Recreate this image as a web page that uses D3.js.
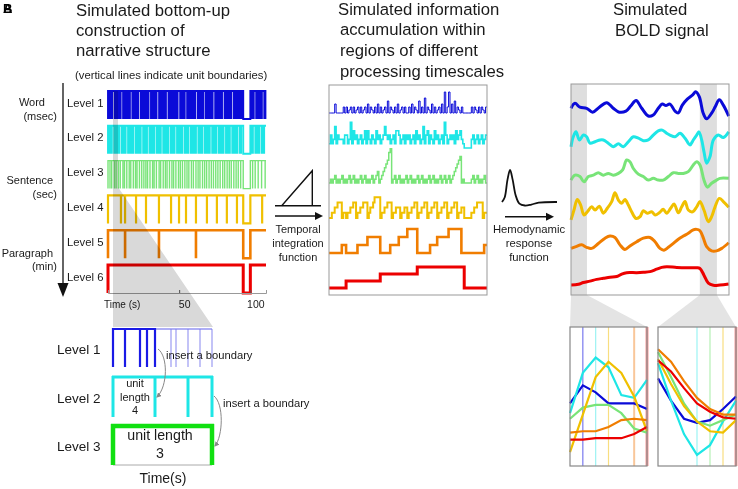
<!DOCTYPE html>
<html><head><meta charset="utf-8">
<script src="https://cdn.jsdelivr.net/npm/d3@7"></script>
<style>body{margin:0;background:#fff}svg{display:block;font-family:"Liberation Sans",Arial,Helvetica,sans-serif}</style>
</head><body><svg id="c" width="738" height="489"></svg>
<script>
// ---------------- DATA ----------------
const levelNames = ["Level 1","Level 2","Level 3","Level 4","Level 5","Level 6"];
const timescaleLabels = [["Word","(msec)"],["Sentence","(sec)"],["Paragraph","(min)"]];
const timeTicks = [50,100];
const pauseStart = 95, pauseEnd = 100;
// unit boundaries (s) for each level
const level1Bounds = [0,0.8,1.5,2.4,3.1,4.9,5.7,6.5,7.3,8.1,8.9,10.6,11.4,12.2,12.9,13.8,14.6,15.4,17.1,17.9,18.7,19.5,20.3,21.1,22.9,23.7,24.5,25.3,26.1,26.9,27.7,28.5,30.2,31.0,31.8,32.5,33.3,34.1,35.9,36.7,37.5,38.3,39.1,39.9,40.7,42.5,43.3,44.1,44.9,45.7,46.5,47.3,48.1,48.9,50.7,51.5,52.3,53.1,53.9,55.6,56.4,57.2,58.0,58.8,59.6,60.4,61.2,63.0,63.8,64.6,65.4,66.2,67.0,68.7,69.5,70.3,71.1,71.9,72.7,73.5,75.3,76.1,76.9,77.7,78.5,79.3,80.1,81.9,82.7,83.5,84.3,85.1,85.9,86.7,88.5,89.3,90.1,90.9,91.7,92.5,93.3,94.1,95,100,100.8,101.6,102.4,104.1,104.9,105.7,106.5,107.3,108.1,109.8,110.6];
const level2Bounds = [0,0.9,1.8,2.7,4.4,5.3,6.2,7.1,8.0,9.7,10.6,11.5,12.4,14.1,15.0,15.9,16.8,17.7,19.4,20.3,21.2,22.1,23.0,24.7,25.6,26.5,27.4,29.1,30.0,30.9,31.8,32.7,34.4,35.3,36.2,37.1,38.8,39.7,40.6,41.5,42.4,44.1,45.0,45.9,46.8,48.5,49.4,50.3,51.2,52.1,53.8,54.7,55.6,56.5,58.2,59.1,60.0,60.9,61.8,63.5,64.4,65.3,66.2,67.9,68.8,69.7,70.6,71.5,73.2,74.1,75.0,75.9,77.6,78.5,79.4,80.3,81.2,82.9,83.8,84.7,85.6,87.3,88.2,89.1,90.0,90.9,92.6,93.5,95,100,100.9,101.8,103.5,104.4,105.3,106.2,107.9,108.8,109.7];
const level3Bounds = [0,1.4,2.6,4.5,5.7,7.3,8.6,10.5,11.6,13.2,14.9,16.0,17.8,19.3,20.4,22.1,23.7,25.2,26.6,27.8,29.5,31.3,32.4,34.0,35.9,37.0,38.8,40.3,41.5,43.2,44.9,46.1,47.7,49.5,50.8,52.3,54.0,55.5,56.8,58.6,60.0,61.8,63.3,64.6,66.4,67.9,69.3,71.0,72.6,74.1,75.7,77.2,78.8,80.6,82.0,83.7,85.2,86.6,88.4,90.0,91.5,93.2,95,100,101.6,103.4,105.5,107.9,110.4];
const level4Bounds = [0,9.1,12.0,19.7,26.7,35.8,44.3,49.9,54.8,61.8,69.5,76.5,83.5,90.6,95,100,108.3];
const level5Bounds = [0,12.0,35.8,61.8,95,100];
const level6Bounds = [0,95,100];
// accumulated information, sampled each second (t = 0..110)
const accBlue   = [0,0,0,0,3,0,0,0,0,0,2,0,2,0,1,2,0,2,0,1,2,0,2,0,1,2,0,3,0,2,1,0,2,0,3,0,2,0,1,2,0,4,0,2,1,0,2,0,3,0,1,2,0,2,0,0,2,0,3,0,2,1,0,4,0,2,0,5,0,2,1,0,3,0,2,0,1,2,0,3,0,7,0,2,7,0,3,0,4,0,2,1,0,2,0,0,0,0,0,0,2,0,2,1,0,2,0,2,1,0,2];
const accCyan   = [1,3,1,2,5,1,3,2,2,2,1,3,3,1,2,6,1,4,2,3,1,2,3,1,2,4,1,4,2,1,3,2,1,4,2,3,1,2,3,5,3,2,3,1,2,3,1,4,4,3,1,2,3,1,3,2,3,1,2,3,1,4,2,3,1,2,5,1,3,4,1,3,2,1,4,2,3,1,2,3,1,6,3,1,2,3,2,3,1,4,2,3,4,2,1,0,0,0,0,0,2,3,1,2,3,1,2,3,1,2,3];
const accGreen  = [0,1,0,1,2,0,1,0,1,2,0,1,0,1,2,0,1,2,0,1,0,1,2,0,1,2,0,1,0,1,2,0,1,2,3,0,1,2,3,4,5,6,8,9,0,1,2,0,1,2,0,1,0,1,2,0,1,2,0,1,0,1,2,0,1,2,0,1,0,1,2,0,1,2,0,1,0,1,2,0,1,2,0,1,2,0,1,2,3,4,5,6,7,0,1,0,0,0,0,0,1,2,0,1,2,0,1,0,1,2,0];
const accYellow = [0,0,1,1,2,2,3,3,3,0,1,1,0,1,1,2,2,3,3,0,1,1,2,2,3,3,3,0,1,2,2,3,4,4,4,4,0,1,1,2,2,3,3,3,0,1,1,2,2,2,0,1,1,2,2,0,1,1,2,2,3,3,0,1,1,2,2,3,3,0,1,1,2,2,3,3,0,1,1,2,2,3,3,0,1,1,2,2,3,3,0,1,1,2,2,0,0,0,0,0,1,1,2,2,3,3,3,3,0,1,1];
const accOrange = [0,0,0,0,0,0,0,0,0,1,1,1,0,0,0,0,0,0,0,0,1,1,1,1,1,1,1,2,2,2,2,2,2,2,2,2,0,0,0,0,0,0,0,1,1,1,1,1,1,2,2,2,2,2,2,3,3,3,3,3,3,3,0,0,0,0,0,0,0,0,0,1,1,1,1,1,2,2,2,2,2,2,2,2,3,3,3,3,3,3,3,3,3,0,0,0,0,0,0,0,0,0,0,0,0,0,0,0,0,1,1];
const accRed    = [0,0,0,0,0,0,0,0,0,0,0,0,1,1,1,1,1,1,1,1,1,1,1,1,1,1,1,1,1,1,1,1,1,1,1,1,2,2,2,2,2,2,2,2,2,2,2,2,2,2,2,2,2,2,2,2,2,2,2,2,2,2,3,3,3,3,3,3,3,3,3,3,3,3,3,3,3,3,3,3,3,3,3,3,3,3,3,3,3,3,3,3,3,3,3,0,0,0,0,0,0,0,0,0,0,0,0,0,0,0,0,0];
// simulated BOLD signal, [time s, a.u.]
const boldBlue   = [[0,0.31],[2.8,0.45],[6.3,0.34],[11,0.31],[15.2,0.2],[19.9,0.34],[25.1,0.47],[29.7,0.31],[33.9,0.2],[38.6,0.23],[42.1,0.38],[45.7,0.53],[49.7,0.31],[54.3,0.09],[57.8,0.12],[61.3,0.31],[64.1,0.43],[66.7,0.39],[69.5,0.43],[73.1,0.23],[75.4,0.18],[78.2,0.4],[81.7,0.57],[85.5,0.69],[87.6,0.78],[90.1,0.64],[92.9,0.17],[95.3,0.01],[98.8,0.17],[101.4,0.36],[104.2,0.55],[107,0.4],[110.8,0.09]];
const boldCyan   = [[0,0.22],[1.6,0.5],[3.5,0.64],[5.9,0.41],[8.7,0.55],[11,0.5],[13.3,0.32],[16.9,0.36],[20.4,0.41],[22.7,0.41],[26.2,0.32],[29.7,0.22],[33.3,0.3],[36.8,0.22],[40.3,0.36],[43.8,0.5],[47.3,0.46],[50.8,0.39],[54.3,0.41],[57.8,0.55],[61.3,0.67],[64.1,0.69],[67.2,0.6],[69.5,0.55],[73.1,0.5],[76.6,0.6],[80.1,0.46],[83.6,0.27],[85.9,0.41],[88.3,0.55],[89.9,0.64],[91.8,0.41],[93.4,0.08],[95.3,-0.25],[97.6,-0.07],[100,0.41],[103.5,0.55],[107,0.48],[110.8,0.64]];
const boldGreen  = [[0,0.27],[2.8,0.41],[6.3,0.37],[9.1,0.22],[12.2,0.37],[15.7,0.41],[19.2,0.48],[22.7,0.41],[26.2,0.46],[29.7,0.41],[33.3,0.46],[36.3,0.56],[39.1,0.84],[41.4,0.79],[43.8,0.6],[47.3,0.44],[50.8,0.37],[54.3,0.27],[57.8,0.32],[61.3,0.27],[64.8,0.27],[68.4,0.37],[71.9,0.48],[75.4,0.46],[78.9,0.46],[82.4,0.51],[85.9,0.7],[88.3,0.79],[90.6,0.7],[93.4,0.27],[95.8,0.07],[98.8,0.18],[102.3,0.27],[104.7,0.32],[110.8,0.32]];
const boldYellow = [[0,0.14],[2.1,0.42],[4.4,0.72],[6.8,0.56],[9.1,0.28],[11.5,0.37],[14.5,0.51],[16.9,0.42],[19.9,0.53],[22.7,0.33],[25.5,0.47],[28.6,0.66],[30.9,0.91],[33.3,0.7],[35.6,0.61],[37.9,0.72],[40.3,0.56],[42.6,0.37],[45.7,0.18],[48.5,0.23],[50.8,0.4],[53.6,0.33],[56.7,0.37],[59.1,0.28],[62,0.34],[64.8,0.44],[67.2,0.33],[70,0.47],[72.4,0.59],[75.4,0.34],[77.8,0.51],[80.1,0.66],[82.4,0.42],[85.5,0.37],[88.3,0.51],[90.6,0.66],[93.4,0.42],[96.5,0.09],[98.8,0.23],[101.2,0.51],[104.2,0.75],[107,0.66],[110.8,0.5]];
const boldOrange = [[0,0.33],[3.5,0.38],[7.5,0.43],[11,0.36],[14.5,0.33],[19.2,0.47],[23.9,0.62],[27.4,0.68],[30.9,0.64],[34.4,0.43],[37.9,0.3],[41.4,0.4],[46.2,0.52],[50.8,0.62],[55.5,0.64],[59,0.52],[62.5,0.33],[65.3,0.28],[68.4,0.36],[71.9,0.47],[75.4,0.59],[78.9,0.68],[82.4,0.76],[85.5,0.85],[88.3,0.87],[90.6,0.83],[93,0.62],[95.3,0.38],[98.8,0.26],[102.3,0.26],[105.9,0.33],[110.8,0.49]];
const boldRed    = [[0,0.29],[5.2,0.31],[8.7,0.36],[13.3,0.4],[18,0.45],[22.7,0.48],[27.4,0.51],[32.1,0.53],[35.6,0.6],[39.1,0.64],[46.2,0.64],[50.8,0.65],[55.5,0.67],[60.2,0.74],[63.7,0.79],[67.2,0.81],[74.3,0.79],[81.3,0.78],[88.3,0.78],[90.6,0.76],[93.4,0.57],[96.5,0.34],[100,0.28],[104.7,0.29],[110.8,0.32]];
const zoomWindows = [[0,11.2],[90.5,102.5]];
// zoomed BOLD samples (TRs) in each window
const inset1 = {
  blue:[0.45,0.58,0.53,0.45,0.45,0.45,0.41], cyan:[0.38,0.67,0.78,0.71,0.51,0.49,0.62],
  green:[0.34,0.42,0.44,0.44,0.38,0.27,0.24], yellow:[0.10,0.37,0.64,0.75,0.67,0.50,0.25],
  orange:[0.24,0.25,0.25,0.28,0.33,0.34,0.33], red:[0.19,0.19,0.20,0.20,0.20,0.23,0.28]};
const inset2 = {
  blue:[0.63,0.47,0.34,0.31,0.33,0.41,0.50], cyan:[0.74,0.47,0.23,0.08,0.15,0.32,0.47],
  green:[0.82,0.64,0.45,0.32,0.29,0.33,0.37], yellow:[0.77,0.59,0.43,0.32,0.25,0.24,0.33],
  orange:[0.84,0.75,0.61,0.49,0.41,0.37,0.37], red:[0.76,0.68,0.56,0.45,0.39,0.35,0.34]};
const inset1Bounds = [[1,"blue"],[2,"cyan"],[3,"yellow"],[5,"orange"],[6,"red"]];
const inset2Bounds = [[3,"cyan"],[4,"green"],[5,"yellow"],[6,"red"]];
// schematic (bottom-left)
const schemBlue = [0,1.2,2.7,3.4,4.2];
const schemBlueNext = [5.8,6.3,7.5,8.7,9.9];
const schemCyan = [0,4.2,7.5,9.9];
const schemGreen = [0,9.9];
const hrfT = [0,1.5,3,4.4,5.8,7.5,9.5,12.5,16,20,30];
const hrfV = [0,0.15,0.7,1,0.7,0.2,-0.05,-0.11,-0.08,-0.02,0];

// ---------------- STYLE ----------------
const colors = {blue:"#0a0ad8",cyan:"#1ee6e6",green:"#78e478",yellow:"#f0c000",orange:"#f07d00",red:"#ec0000"};
const light = {blue:"#7a7aee",cyan:"#9cf3f3",green:"#b5f0b5",yellow:"#f8de80",orange:"#f9c79a",red:"#f59a9a"};
const order = ["blue","cyan","green","yellow","orange","red"];
const svg = d3.select("#c");
const txt = (x,y,s,size,anchor,extra)=>{const t=svg.append("text").attr("x",x).attr("y",y).attr("font-size",size).attr("fill","#1a1a1a").attr("text-anchor",anchor||"start").text(s);if(extra)extra(t);return t;};

// panel label
txt(3,13,"A",13,"start",t=>t.attr("font-weight","bold").attr("fill","#000"));
txt(3,13,"B",13,"start",t=>t.attr("font-weight","bold").attr("fill","#000"));

// ---------- Panel 1 ----------
["Simulated bottom-up","construction of","narrative structure"].forEach((s,i)=>txt(76,15.5+20*i,s,16.7));
txt(75,79,"(vertical lines indicate unit boundaries)",11.3);
const xL = d3.scaleLinear().domain([0,111]).range([108,266]);
const allBounds = [level1Bounds,level2Bounds,level3Bounds,level4Bounds,level5Bounds,level6Bounds];
const lwL = [1.9,1.9,1.4,2.2,2.6,3];
const rowTop = i=>91+i*34.8, rowH = 28;
allBounds.forEach((b,i)=>{
  const top=rowTop(i), bot=top+rowH;
  let p = `M${xL(0)},${bot}V${top}`;
  b.forEach(d=>{
    if(d===0||d===pauseEnd) return;
    if(d===pauseStart){ p += `H${xL(pauseStart)}V${bot}H${xL(pauseEnd)}V${top}`; }
    else p += `H${xL(d)}V${bot}V${top}`;
  });
  p += `H${xL(111)}`;
  svg.append("path").attr("d",p).attr("fill","none").attr("stroke",colors[order[i]]).attr("stroke-width",lwL[i]);
  txt(67,rowTop(i)+15.5,levelNames[i],11.3);
});
// axis
const axL = svg.append("g").attr("transform","translate(0,293)")
  .call(d3.axisBottom(xL).tickValues(timeTicks).tickSize(-3).tickFormat(d3.format("d")));
axL.select(".domain").attr("stroke","#999");
axL.selectAll(".tick line").attr("stroke","#555");
axL.selectAll("text").attr("font-size",10.5).attr("y",15).attr("dy",0).attr("dx",5).attr("fill","#1a1a1a").attr("font-family","Liberation Sans, Arial");
txt(104,308,"Time (s)",10);
// vertical arrow
svg.append("line").attr("x1",63).attr("x2",63).attr("y1",83).attr("y2",285).attr("stroke","#111").attr("stroke-width",1.3);
svg.append("path").attr("d","M57.5,283L68.5,283L63,297Z").attr("fill","#111");
const tsY = [[106,120],[184,198],[257,270]];
const tsX = [[45,57],[53,57],[53,57]];
timescaleLabels.forEach((l,i)=>{txt(tsX[i][0],tsY[i][0],l[0],11,"end");txt(tsX[i][1],tsY[i][1],l[1],11,"end");});
// zoom overlay
svg.append("path").attr("d",`M${xL(3.5)},91H${xL(7)}V187L213,327H${xL(3.5)}Z`).attr("fill","#d9d9d9").style("mix-blend-mode","multiply");

// ---------- schematic ----------
const xS = d3.scaleLinear().domain([0,9.9]).range([113,212]);
svg.append("line").attr("x1",xS(4.2)).attr("x2",xS(9.9)).attr("y1",329).attr("y2",329).attr("stroke",light.blue).attr("stroke-opacity",0.6).attr("stroke-width",2);
svg.selectAll(".sbn").data(schemBlueNext).join("line").attr("x1",d=>xS(d)).attr("x2",d=>xS(d)).attr("y1",329).attr("y2",367).attr("stroke",light.blue).attr("stroke-opacity",0.45).attr("stroke-width",2);
svg.append("line").attr("x1",xS(0)).attr("x2",xS(4.2)).attr("y1",329).attr("y2",329).attr("stroke","#1a1ae6").attr("stroke-width",2.2);
svg.selectAll(".sb").data(schemBlue).join("line").attr("x1",d=>xS(d)).attr("x2",d=>xS(d)).attr("y1",328).attr("y2",367).attr("stroke","#1a1ae6").attr("stroke-width",2.2);
svg.append("line").attr("x1",xS(0)-1).attr("x2",xS(9.9)+1).attr("y1",377).attr("y2",377).attr("stroke",colors.cyan).attr("stroke-width",3);
svg.selectAll(".sc").data(schemCyan).join("line").attr("x1",d=>xS(d)).attr("x2",d=>xS(d)).attr("y1",376).attr("y2",417).attr("stroke",colors.cyan).attr("stroke-width",3);
svg.append("line").attr("x1",xS(0)).attr("x2",xS(9.9)).attr("y1",465).attr("y2",465).attr("stroke","#aaa").attr("stroke-width",1);
svg.append("line").attr("x1",xS(0)-2).attr("x2",xS(9.9)+2).attr("y1",426).attr("y2",426).attr("stroke","#11e011").attr("stroke-width",4.5);
svg.selectAll(".sg").data(schemGreen).join("line").attr("x1",d=>xS(d)).attr("x2",d=>xS(d)).attr("y1",424).attr("y2",465).attr("stroke","#11e011").attr("stroke-width",4.5);
["Level 1","Level 2","Level 3"].forEach((s,i)=>txt(57,354+48.5*i,s,13.5));
["unit","length","4"].forEach((s,i)=>txt(135,387+13.5*i,s,11,"middle"));
txt(160,440,"unit length",14.2,"middle"); txt(160,458,"3",14.2,"middle");
txt(163,483,"Time(s)",14,"middle");
txt(166,359,"insert a boundary",11.2); txt(223,407,"insert a boundary",11.2);
const defs = svg.append("defs");
defs.append("marker").attr("id","ga").attr("viewBox","0 0 10 10").attr("refX",8).attr("refY",5).attr("markerWidth",5).attr("markerHeight",5).attr("orient","auto")
  .append("path").attr("d","M0,0L10,5L0,10Z").attr("fill","#888");
svg.append("path").attr("d","M158,349C168,356 168,386 157,397").attr("fill","none").attr("stroke","#888").attr("stroke-width",1).attr("marker-end","url(#ga)");
svg.append("path").attr("d","M214,396C224,404 223,436 215,446").attr("fill","none").attr("stroke","#888").attr("stroke-width",1).attr("marker-end","url(#ga)");

// ---------- Panel 2 ----------
["Simulated information","accumulation within","regions of different","processing timescales"].forEach((s,i)=>txt(i?340:338,14.5+20.7*i,s,16.7));
const xM = d3.scaleLinear().domain([0,111]).range([329,487]);
const accAll = [accBlue,accCyan,accGreen,accYellow,accOrange,accRed];
const stepPx = [3,4.3,3.8,5.2,8,7];
const lwM = [1,1.6,1.5,2,2.6,3];
accAll.forEach((a,i)=>{
  const base = 113+35*i;
  const y = d3.scaleLinear().domain([0,1]).range([base, base-stepPx[i]]);
  const pts = a.map((v,t)=>[t,v]).concat([[111,a[a.length-1]]]);
  svg.append("path").datum(pts).attr("fill","none").attr("stroke",colors[order[i]]).attr("stroke-width",lwM[i])
    .attr("d",d3.line().x(d=>xM(d[0])).y(d=>y(d[1])).curve(d3.curveStepAfter));
});
svg.append("rect").attr("x",329).attr("y",85).attr("width",158).attr("height",210).attr("fill","none").attr("stroke","#999").attr("stroke-width",1);
// ramp icon
svg.append("line").attr("x1",275).attr("x2",321).attr("y1",205.7).attr("y2",205.7).attr("stroke","#111").attr("stroke-width",1.4);
svg.append("path").attr("d","M281.7,205.7L312.3,170.7V205.7").attr("fill","none").attr("stroke","#111").attr("stroke-width",1.4);
const arrow=(x1,x2,y)=>{svg.append("line").attr("x1",x1).attr("x2",x2-6).attr("y1",y).attr("y2",y).attr("stroke","#111").attr("stroke-width",1.4);
  svg.append("path").attr("d",`M${x2-8},${y-4}L${x2},${y}L${x2-8},${y+4}Z`).attr("fill","#111");};
arrow(275,323,216);
["Temporal","integration","function"].forEach((s,i)=>txt(298,233+14*i,s,11,"middle"));
// HRF icon
const xH = d3.scaleLinear().domain([0,30]).range([502,557]);
const yH = d3.scaleLinear().domain([0,1]).range([202,170]);
svg.append("path").datum(hrfT.map((t,i)=>[t,hrfV[i]])).attr("fill","none").attr("stroke","#111").attr("stroke-width",1.8)
  .attr("d",d3.line().x(d=>xH(d[0])).y(d=>yH(d[1])).curve(d3.curveCatmullRom));
arrow(505,554,216.7);
["Hemodynamic","response","function"].forEach((s,i)=>txt(529,233+14*i,s,11.3,"middle"));

// ---------- Panel 3 ----------
txt(613,15,"Simulated",16.7); txt(615,36,"BOLD signal",16.7);
const xR = d3.scaleLinear().domain([0,111]).range([571,729]);
const insetBoxes = [[570,647],[658,736]];
zoomWindows.forEach((w,k)=>{
  svg.append("rect").attr("x",xR(w[0])).attr("y",84).attr("width",xR(w[1])-xR(w[0])).attr("height",211).attr("fill","#dedede");
  svg.append("path").attr("d",`M${xR(w[0])},295H${xR(w[1])}L${insetBoxes[k][1]},327H${insetBoxes[k][0]}Z`).attr("fill","#e4e4e4");
});
const boldAll = [boldBlue,boldCyan,boldGreen,boldYellow,boldOrange,boldRed];
boldAll.forEach((b,i)=>{
  const bot = 84+35.2*(i+1);
  const y = d3.scaleLinear().domain([0,1]).range([bot,bot-35.2]);
  svg.append("path").datum(b).attr("fill","none").attr("stroke",colors[order[i]]).attr("stroke-width",3).attr("stroke-linejoin","round")
    .attr("d",d3.line().x(d=>xR(d[0])).y(d=>y(d[1])).curve(d3.curveCatmullRom.alpha(0.5)));
});
svg.append("rect").attr("x",571).attr("y",84).attr("width",158).attr("height",211).attr("fill","none").attr("stroke","#999").attr("stroke-width",1);
// insets
[[inset1,inset1Bounds],[inset2,inset2Bounds]].forEach(([ins,bnds],k)=>{
  const [x0,x1] = insetBoxes[k];
  const xi = d3.scaleLinear().domain([0,6]).range([x0,x1]);
  const yi = d3.scaleLinear().domain([0,1]).range([466,327]);
  svg.append("rect").attr("x",x0).attr("y",327).attr("width",x1-x0).attr("height",139).attr("fill","#fff");
  bnds.forEach(([idx,c])=>{
    svg.append("line").attr("x1",xi(idx)).attr("x2",xi(idx)).attr("y1",327).attr("y2",466)
      .attr("stroke",c==="blue"?light.blue:light[c]).attr("stroke-width",c==="red"?3:(c==="orange"?2:1.2));
  });
  order.forEach(c=>{
    svg.append("path").datum(ins[c]).attr("fill","none").attr("stroke",colors[c]).attr("stroke-width",2.2)
      .attr("d",d3.line().x((d,i)=>xi(i)).y(d=>yi(d)));
  });
  svg.append("rect").attr("x",x0).attr("y",327).attr("width",x1-x0).attr("height",139).attr("fill","none").attr("stroke","#888").attr("stroke-width",1.2);
});
</script></body></html>
